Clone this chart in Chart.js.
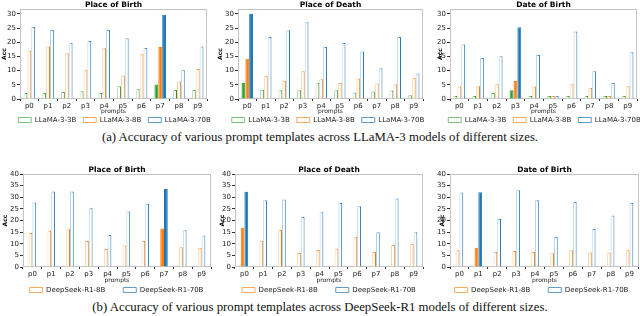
<!DOCTYPE html>
<html><head><meta charset="utf-8">
<script src="https://cdn.jsdelivr.net/npm/chart.js@4.4.1/dist/chart.umd.min.js"></script>
<style>
html,body{margin:0;padding:0;background:#fff;}
body{width:640px;height:316px;position:relative;overflow:hidden;}
.box{position:absolute;}
.box canvas{display:block;}
.cap{position:absolute;left:0;width:640px;text-align:center;font-family:"Liberation Serif","Times New Roman",serif;font-size:12.8px;line-height:14px;color:#111;white-space:nowrap;z-index:5;}
</style></head><body>
<div class="box" id="b1"><canvas id="c1"></canvas></div>
<div class="box" id="b2"><canvas id="c2"></canvas></div>
<div class="box" id="b3"><canvas id="c3"></canvas></div>
<div class="box" id="b4"><canvas id="c4"></canvas></div>
<div class="box" id="b5"><canvas id="c5"></canvas></div>
<div class="box" id="b6"><canvas id="c6"></canvas></div>
<div class="cap" style="top:130px">(a) Accuracy of various prompt templates across LLaMA-3 models of different sizes.</div>
<div class="cap" style="top:300px">(b) Accuracy of various prompt templates across DeepSeek-R1 models of different sizes.</div>
<script>
// ---------- data ----------
const prompts = ['p0','p1','p2','p3','p4','p5','p6','p7','p8','p9'];
const panelTitles = ['Place of Birth','Place of Death','Date of Birth'];
const llamaModels = ['LLaMA-3-3B','LLaMA-3-8B','LLaMA-3-70B'];
const deepseekModels = ['DeepSeek-R1-8B','DeepSeek-R1-70B'];
const llamaYTicks = [0,5,10,15,20,25,30];
const deepseekYTicks = [0,5,10,15,20,25,30,35,40];

const llamaPOB_3B  = [2.1,2.1,2.5,2.7,2.1,4.5,3.4,5.1,3.2,3.2];
const llamaPOB_8B  = [17.1,18.5,16.1,10.1,17.9,8.3,15.8,18.3,6.2,10.6];
const llamaPOB_70B = [25.4,24.3,19.8,20.4,24.3,21.4,18.0,29.7,10.3,18.5];
const llamaPOD_3B  = [5.7,3.3,3.1,3.1,5.7,3.1,2.3,2.6,3.0,1.3];
const llamaPOD_8B  = [14.2,8.2,6.4,9.8,7.0,5.7,7.2,5.5,5.2,7.5];
const llamaPOD_70B = [30.0,21.8,24.2,27.0,18.3,19.7,16.7,10.8,21.8,9.0];
const llamaDOB_3B  = [1.1,1.1,2.1,3.1,1.1,1.1,1.1,1.1,1.1,1.1];
const llamaDOB_8B  = [4.4,4.5,5.2,6.3,4.4,1.1,5.2,4.0,1.1,4.5];
const llamaDOB_70B = [19.2,14.4,15.1,25.3,15.5,1.1,23.8,9.8,5.6,16.5];

const dsPOB_8B  = [14.6,15.6,16.2,11.2,7.7,9.3,11.2,16.6,8.5,8.3];
const dsPOB_70B = [27.7,32.5,32.5,25.5,13.8,23.9,27.2,33.5,15.8,13.6];
const dsPOD_8B  = [16.9,11.3,15.9,6.0,7.3,8.0,13.0,6.5,9.5,10.0];
const dsPOD_70B = [32.4,28.7,29.0,21.5,23.5,27.5,26.1,14.9,29.5,14.9];
const dsDOB_8B  = [7.2,8.3,6.5,6.9,6.5,5.9,7.2,6.2,6.2,7.2];
const dsDOB_70B = [32.0,32.1,20.6,33.0,28.7,12.9,28.0,16.3,22.2,27.5];

const llamaBest = [7,0,3];     // best prompt per panel (filled bars)
const deepseekBest = [7,0,1];

// ---------- styles ----------
const PAL = {
  green:  {solid:'#2ca02c', light:'#b3deb3', dark:'#2a8f2a', legend:'#7cc47c'},
  orange: {solid:'#ff7f0e', light:'#ffd0a3', dark:'#ee7a10', legend:'#ffa95c'},
  blue:   {solid:'#1f77b4', light:'#b0d2ea', dark:'#2a78b2', legend:'#5f9dcb'}
};
const FONT = '"DejaVu Sans", sans-serif';

function borderFn(pal, best, catPct){
  return (ctx) => {
    if (ctx.type !== 'data') return pal.legend;
    if (ctx.dataIndex === best) return pal.solid;
    const chart = ctx.chart, xs = chart.scales.x;
    if (!xs || !isFinite(xs.left) || !isFinite(xs.right) || xs.right <= xs.left) return pal.dark;
    const n = chart.data.labels.length, nd = chart.data.datasets.length;
    const cw = (xs.right - xs.left) / n, gw = cw * catPct, bw = gw / nd;
    const c = xs.getPixelForValue(ctx.dataIndex);
    const left = c - gw/2 + ctx.datasetIndex * bw;
    const g = chart.ctx.createLinearGradient(left, 0, left + bw, 0);
    g.addColorStop(0, pal.light);
    g.addColorStop(0.25, pal.light);
    g.addColorStop(0.75, pal.dark);
    g.addColorStop(1, pal.dark);
    return g;
  };
}
function bgFn(pal, best){
  return (ctx) => (ctx.type === 'data' && ctx.dataIndex === best) ? pal.solid : '#ffffff';
}

const framePlugin = {
  id: 'frame',
  beforeDatasetsDraw(chart){
    const a = chart.chartArea, c = chart.ctx;
    c.save(); c.strokeStyle = '#c4c4c4'; c.lineWidth = 1;
    c.strokeRect(Math.round(a.left)+0.5, Math.round(a.top)+0.5, Math.round(a.right-a.left)-1, Math.round(a.bottom-a.top)-1);
    c.restore();
  }
};
const legendMovePlugin = {
  id: 'legendMove',
  afterLayout(chart, args, opts){
    if (chart.legend && opts && isFinite(opts.top)) {
      chart.legend.top = opts.top;
      chart.legend.bottom = chart.height;
      if (isFinite(opts.shift)) { chart.legend.left += opts.shift; chart.legend.right += opts.shift; }
    }
  }
};

function makeChart(cfg){
  const box = document.getElementById(cfg.box);
  box.style.left = cfg.left + 'px'; box.style.top = cfg.top + 'px';
  box.style.width = cfg.w + 'px'; box.style.height = cfg.h + 'px';
  const colors = cfg.models.length === 3 ? [PAL.green, PAL.orange, PAL.blue] : [PAL.orange, PAL.blue];
  const datasets = cfg.series.map((vals, i) => ({
    label: cfg.models[i],
    data: vals,
    backgroundColor: bgFn(colors[i], cfg.best),
    borderColor: borderFn(colors[i], cfg.best, cfg.catPct),
    borderWidth: 1,
    borderSkipped: 'bottom',
    categoryPercentage: cfg.catPct,
    barPercentage: 1
  }));
  return new Chart(document.getElementById(cfg.canvas), {
    type: 'bar',
    data: { labels: prompts, datasets },
    plugins: [framePlugin, legendMovePlugin],
    options: {
      responsive: true, maintainAspectRatio: false, animation: false, devicePixelRatio: 1,
      layout: { padding: { left: 0, right: cfg.padRight, top: 0, bottom: 0 } },
      plugins: {
        title: { display: true, text: cfg.title, fullSize: false, color: '#000',
          font: { family: FONT, size: 7.5, weight: 'bold', lineHeight: 1 },
          padding: { top: cfg.titlePad, bottom: 0 } },
        legend: { position: 'bottom', fullSize: true, maxHeight: 8,
          labels: { boxWidth: 13, boxHeight: 5, padding: cfg.legendPad, color: '#222',
            font: { family: FONT, size: 7 },
            generateLabels: (chart) => chart.data.datasets.map((ds, i) => ({
              text: ds.label, fillStyle: '#ffffff', strokeStyle: colors[i].legend,
              lineWidth: 1, hidden: false, datasetIndex: i, fontColor: '#222'
            }))
          } },
        legendMove: { top: cfg.legendTop, shift: cfg.legendShift },
        tooltip: { enabled: false }
      },
      scales: {
        x: {
          offset: true,
          border: { display: false },
          grid: { display: true, drawOnChartArea: false, drawTicks: true, tickLength: 2, color: '#333' },
          ticks: { color: '#222', padding: 1, maxRotation: 0, font: { family: FONT, size: 7 } },
          title: { display: true, text: 'prompts', color: '#222', padding: { top: 0, bottom: cfg.xTitlePad },
            font: { family: FONT, size: 6, lineHeight: 1 } },
          afterFit: (s) => { s.height = 20; }
        },
        y: {
          min: 0, max: cfg.ymax,
          border: { display: false },
          grid: { display: true, drawOnChartArea: false, drawTicks: true, tickLength: 3, color: '#333' },
          ticks: { color: '#222', padding: 1, font: { family: FONT, size: 7 } },
          afterBuildTicks: (s) => { s.ticks = cfg.yTicks.map(v => ({ value: v })); },
          title: { display: true, text: 'Acc', color: '#000', padding: { top: cfg.accPad, bottom: 0 },
            font: { family: FONT, size: 6, weight: 'bold', lineHeight: 1 } },
          afterFit: (s) => { s.width = cfg.plotLeft; }
        }
      }
    }
  });
}

const row1 = { top: 0, h: 127, titlePad: 1.5, xTitlePad: 5, legendPad: 7, legendTop: 109.5, ymax: 31.7, yTicks: llamaYTicks, models: llamaModels, catPct: 0.62 };
const row2 = { top: 160, h: 135, titlePad: 6.5, xTitlePad: 3.5, legendPad: 18, legendTop: 108.5, ymax: 40, yTicks: deepseekYTicks, models: deepseekModels, catPct: 0.4 };

makeChart(Object.assign({}, row1, { box:'b1', canvas:'c1', left:0,   w:213, plotLeft:20, padRight:6, accPad:1,  legendShift:11, title:panelTitles[0], best:llamaBest[0], series:[llamaPOB_3B, llamaPOB_8B, llamaPOB_70B] }));
makeChart(Object.assign({}, row1, { box:'b2', canvas:'c2', left:213, w:213, plotLeft:25, padRight:3, accPad:4,  legendShift:10, title:panelTitles[1], best:llamaBest[1], series:[llamaPOD_3B, llamaPOD_8B, llamaPOD_70B] }));
makeChart(Object.assign({}, row1, { box:'b3', canvas:'c3', left:426, w:214, plotLeft:24, padRight:3, accPad:11, legendShift:13, title:panelTitles[2], best:llamaBest[2], series:[llamaDOB_3B, llamaDOB_8B, llamaDOB_70B] }));
makeChart(Object.assign({}, row2, { box:'b4', canvas:'c4', left:0,   w:213, plotLeft:23, padRight:2, accPad:2,  legendShift:11, title:panelTitles[0], best:deepseekBest[0], series:[dsPOB_8B, dsPOB_70B] }));
makeChart(Object.assign({}, row2, { box:'b5', canvas:'c5', left:213, w:213, plotLeft:22, padRight:3, accPad:6,  legendShift:11, title:panelTitles[1], best:deepseekBest[1], series:[dsPOD_8B, dsPOD_70B] }));
makeChart(Object.assign({}, row2, { box:'b6', canvas:'c6', left:426, w:214, plotLeft:24, padRight:1, accPad:13, legendShift:9, title:panelTitles[2], best:deepseekBest[2], series:[dsDOB_8B, dsDOB_70B] }));
</script>
</body></html>
